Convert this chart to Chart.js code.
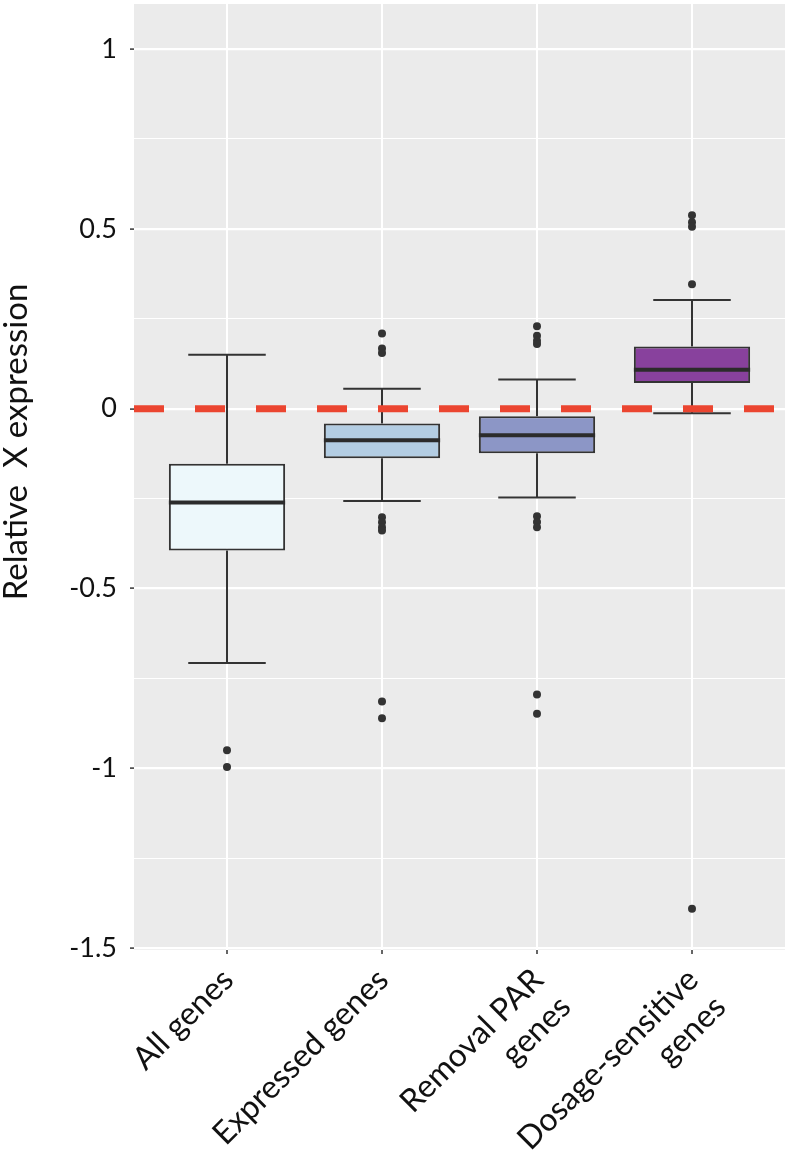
<!DOCTYPE html>
<html>
<head>
<meta charset="utf-8">
<script src="https://cdn.jsdelivr.net/npm/chart.js@4.4.1/dist/chart.umd.min.js"></script>
<style>
  html, body { margin: 0; padding: 0; background: #fff; }
  canvas { display: block; }
</style>
</head>
<body>
<canvas id="chart" width="789" height="1155"></canvas>
<script>
// categories + tick labels (multi-line ones as arrays)
const categories = ['All genes', 'Expressed genes', 'Removal PAR genes', 'Dosage-sensitive genes'];
const tickLabels = [['All genes'], ['Expressed genes'], ['Removal PAR', 'genes'], ['Dosage-sensitive', 'genes']];

// box stats
const whiskerLow  = [-0.707, -0.257, -0.247, -0.013];
const q1          = [-0.394, -0.138, -0.124,  0.071];
const median      = [-0.261, -0.088, -0.074,  0.108];
const q3          = [-0.153, -0.041, -0.021,  0.173];
const whiskerHigh = [ 0.150,  0.055,  0.081,  0.302];

const outliers = [
  [-0.950, -0.996],
  [0.209, 0.167, 0.155, -0.302, -0.316, -0.330, -0.339, -0.814, -0.861],
  [0.229, 0.203, 0.189, 0.180, -0.299, -0.315, -0.330, -0.795, -0.848],
  [0.538, 0.518, 0.506, 0.346, -1.390]
];

const fills = ['#EDF8FB', '#B3CDE3', '#8C96C6', '#88419D'];
const refLine = 0;

const ink = '#333333';
Chart.defaults.font.family = 'Lato, "Open Sans", sans-serif';

const xs = categories.map((_, i) => i + 1);

// whisker segments, broken with y:null
const whiskerPts = [];
xs.forEach((x, i) => {
  whiskerPts.push({x, y: q3[i]}, {x, y: whiskerHigh[i]}, {x, y: null});
  whiskerPts.push({x: x - 0.25, y: whiskerHigh[i]}, {x: x + 0.25, y: whiskerHigh[i]}, {x, y: null});
  whiskerPts.push({x, y: q1[i]}, {x, y: whiskerLow[i]}, {x, y: null});
  whiskerPts.push({x: x - 0.25, y: whiskerLow[i]}, {x: x + 0.25, y: whiskerLow[i]}, {x, y: null});
});
const medianPts = [];
xs.forEach((x, i) => {
  medianPts.push({x: x - 0.375, y: median[i]}, {x: x + 0.375, y: median[i]}, {x, y: null});
});
const outlierPts = [];
outliers.forEach((list, i) => list.forEach((v) => outlierPts.push({x: xs[i], y: v})));

const isMajor = (v) => Math.abs(v * 2 - Math.round(v * 2)) < 1e-6;

// grey panel behind everything
const panelBg = {
  id: 'panelBg',
  beforeDraw(chart) {
    const {ctx, chartArea: a} = chart;
    ctx.save();
    ctx.fillStyle = '#EBEBEB';
    ctx.fillRect(a.left, a.top, a.right - a.left, a.bottom - a.top);
    ctx.restore();
  }
};

// y title, placed like the original (not centred on the panel)
const yTitle = {
  id: 'yTitle',
  afterDraw(chart) {
    const {ctx} = chart;
    ctx.save();
    ctx.translate(27, 442);
    ctx.rotate(-Math.PI / 2);
    ctx.textAlign = 'center';
    ctx.textBaseline = 'alphabetic';
    ctx.fillStyle = '#111';
    ctx.font = '33px Lato, "Open Sans", sans-serif';
    ctx.fillText('Relative  X expression', 0, 0);
    ctx.restore();
  }
};

const noPad = (s) => { s.paddingTop = 0; s.paddingBottom = 0; s.paddingLeft = 0; s.paddingRight = 0; };

new Chart(document.getElementById('chart').getContext('2d'), {
  type: 'bar',
  data: {
    datasets: [
      {
        type: 'line',
        data: [{x: 0.4, y: refLine}, {x: 4.6, y: refLine}],
        borderColor: '#EB4530',
        borderWidth: 7,
        borderDash: [30, 31],
        borderCapStyle: 'butt',
        pointRadius: 0,
        order: 0
      },
      {
        type: 'line',
        data: medianPts,
        borderColor: '#2b2b2b',
        borderWidth: 4,
        borderCapStyle: 'butt',
        pointRadius: 0,
        spanGaps: false,
        order: 1
      },
      {
        type: 'scatter',
        data: outlierPts,
        backgroundColor: ink,
        borderWidth: 0,
        pointRadius: 4,
        order: 2
      },
      {
        type: 'bar',
        data: xs.map((x, i) => ({x, y: [q3[i], q1[i]]})),
        backgroundColor: fills,
        borderColor: ink,
        borderWidth: 2,
        borderSkipped: false,
        categoryPercentage: 1,
        barPercentage: 0.75,
        order: 3
      },
      {
        type: 'line',
        data: whiskerPts,
        borderColor: ink,
        borderWidth: 2,
        borderCapStyle: 'butt',
        pointRadius: 0,
        spanGaps: false,
        order: 4
      }
    ]
  },
  options: {
    responsive: false,
    animation: false,
    events: [],
    layout: { padding: { top: 3, right: 4, left: 0, bottom: 0 } },
    plugins: {
      legend: { display: false },
      tooltip: { enabled: false }
    },
    scales: {
      x: {
        type: 'linear',
        offset: false,
        min: 0.4,
        max: 4.6,
        afterFit: (s) => { s.height = 205; noPad(s); },
        border: { display: false },
        grid: {
          offset: false,
          color: '#FFFFFF',
          lineWidth: 2,
          tickColor: ink,
          tickWidth: 1.5,
          tickLength: 4
        },
        ticks: {
          stepSize: 1,
          includeBounds: false,
          autoSkip: false,
          minRotation: 45,
          maxRotation: 45,
          padding: 7,
          labelOffset: 1,
          color: '#111',
          font: { size: 32 },
          callback: (v) => (Number.isInteger(v) && v >= 1 && v <= 4 ? tickLabels[v - 1] : '')
        }
      },
      y: {
        type: 'linear',
        min: -1.505,
        max: 1.125,
        afterFit: (s) => { s.width = 134; noPad(s); },
        border: { display: false },
        grid: {
          color: '#FFFFFF',
          lineWidth: (c) => (isMajor(c.tick.value) ? 2.2 : 1.1),
          tickColor: (c) => (isMajor(c.tick.value) ? ink : 'rgba(0,0,0,0)'),
          tickWidth: 1.5,
          tickLength: 4
        },
        ticks: {
          stepSize: 0.25,
          includeBounds: false,
          autoSkip: false,
          padding: 13,
          color: '#111',
          font: { size: 27 },
          callback: (v) => (isMajor(v) ? String(Math.round(v * 10) / 10) : '')
        }
      }
    }
  },
  plugins: [panelBg, yTitle]
});
</script>
</body>
</html>
